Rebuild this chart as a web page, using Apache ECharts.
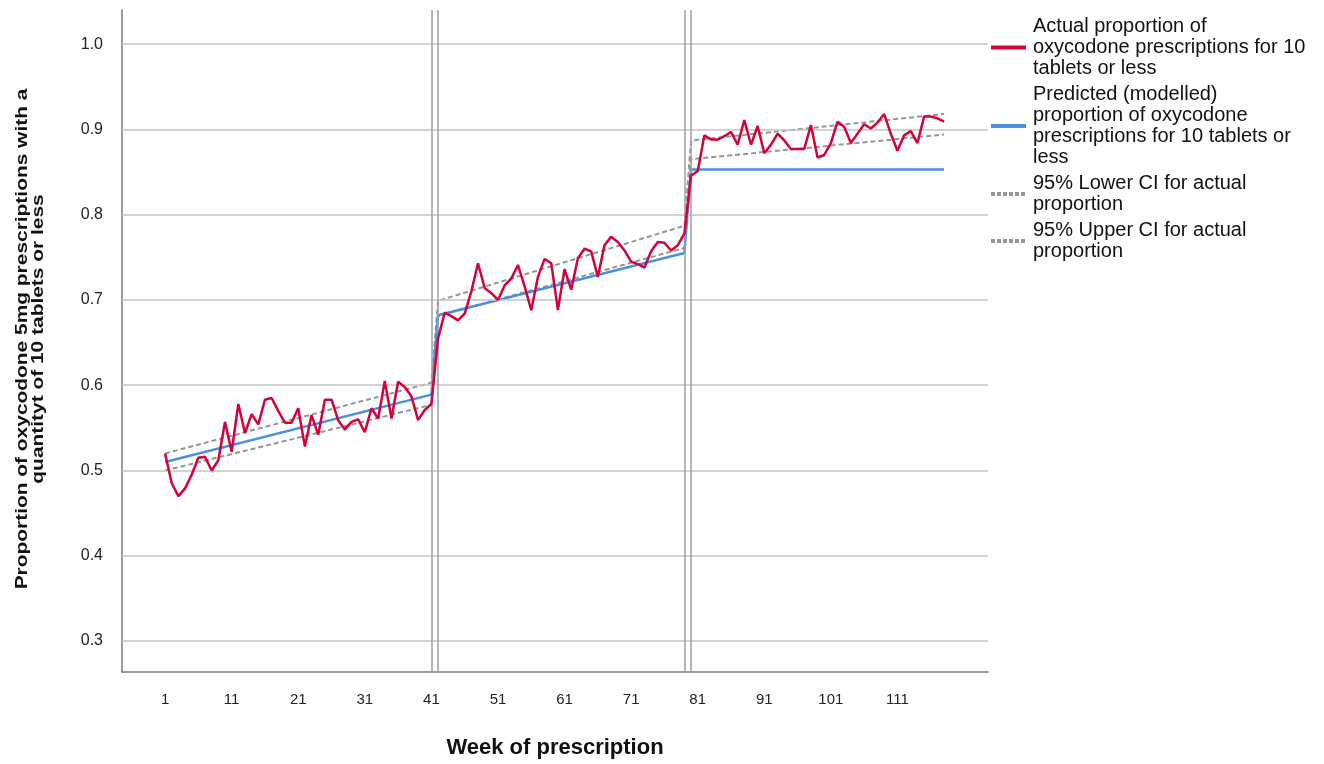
<!DOCTYPE html>
<html><head><meta charset="utf-8">
<script src="https://cdn.jsdelivr.net/npm/echarts@6/dist/echarts.min.js"></script>
<style>html,body{margin:0;padding:0;background:#fff}#c{width:1324px;height:764px}</style>
</head><body><div id="c"></div>
<script>
// Actual weekly proportion, week 1 .. 118
const actual = [
 0.520,0.485,0.470,0.479,0.495,0.515,0.516,0.500,0.512,0.557,
 0.522,0.578,0.544,0.566,0.554,0.583,0.585,0.570,0.556,0.556,
 0.573,0.528,0.565,0.542,0.583,0.583,0.559,0.548,0.557,0.560,
 0.545,0.573,0.561,0.605,0.561,0.604,0.598,0.587,0.559,0.571,
 0.578,0.655,0.685,0.681,0.676,0.684,0.710,0.743,0.714,0.708,
 0.700,0.717,0.725,0.741,0.716,0.688,0.727,0.748,0.743,0.688,
 0.736,0.712,0.749,0.760,0.757,0.727,0.764,0.774,0.768,0.758,
 0.745,0.742,0.738,0.757,0.768,0.767,0.758,0.764,0.778,0.846,
 0.851,0.893,0.888,0.888,0.892,0.897,0.882,0.911,0.882,0.904,
 0.872,0.882,0.895,0.887,0.877,0.877,0.877,0.905,0.867,0.870,
 0.884,0.909,0.903,0.884,0.895,0.906,0.901,0.908,0.918,0.895,
 0.875,0.893,0.898,0.884,0.915,0.915,0.913,0.909
];
const modelWeeks = [1, 41, 42, 79, 80, 118];
const predicted = [0.510, 0.589, 0.682, 0.755, 0.853, 0.853];
const lowerCI = [0.500, 0.577, 0.681, 0.761, 0.865, 0.894];
const upperCI = [0.520, 0.603, 0.699, 0.787, 0.887, 0.918];
const xTickLabels = [1, 11, 21, 31, 41, 51, 61, 71, 81, 91, 101, 111];
const yTickLabels = [0.3, 0.4, 0.5, 0.6, 0.7, 0.8, 0.9, 1.0];
const interruptionWeeks = [41, 42, 79, 80];
const seriesNames = [
 'Actual proportion of oxycodone prescriptions for 10 tablets or less',
 'Predicted (modelled) proportion of oxycodone prescriptions for 10 tablets or less',
 '95% Lower CI for actual proportion',
 '95% Upper CI for actual proportion'
];
const legendText = [
 'Actual proportion of\noxycodone prescriptions for 10\ntablets or less',
 'Predicted (modelled)\nproportion of oxycodone\nprescriptions for 10 tablets or\nless',
 '95% Lower CI for actual\nproportion',
 '95% Upper CI for actual\nproportion'
];
const yTitle = 'Proportion of oxycodone 5mg prescriptions with a\nquantityt of 10 tablets or less';
const xTitle = 'Week of prescription';

const pair = (xs, ys) => xs.map((x, i) => [x, ys[i]]);
const actualData = actual.map((v, i) => [i + 1, v]);

const FONT = '"Liberation Sans", Arial, sans-serif';
const noSymbol = {color: 'rgba(0,0,0,0)', borderWidth: 0, opacity: 0};
const chart = echarts.init(document.getElementById('c'), null, {renderer: 'canvas'});
chart.setOption({
  animation: false,
  backgroundColor: '#ffffff',
  grid: {left: 122, right: 336, top: 10, bottom: 92, containLabel: false, outerBoundsMode: 'none'},
  xAxis: {
    type: 'value', min: -5.47, max: 124.6,
    axisLine: {show: true, onZero: false, lineStyle: {color: '#7a7a7a', width: 1.5}},
    axisTick: {show: false},
    splitLine: {show: false},
    axisLabel: {customValues: xTickLabels, color: '#222', fontSize: 15, fontFamily: FONT, margin: 20},
    name: xTitle, nameLocation: 'middle', nameGap: 65,
    nameTextStyle: {fontSize: 22, fontWeight: 'bold', color: '#111', fontFamily: FONT}
  },
  yAxis: {
    type: 'value', min: 0.2637, max: 1.04,
    axisLine: {show: true, onZero: false, lineStyle: {color: '#7a7a7a', width: 1.5}},
    axisTick: {show: false},
    splitLine: {show: false},
    axisLabel: {customValues: yTickLabels, formatter: v => v.toFixed(1), color: '#222', fontSize: 16, fontFamily: FONT, margin: 19}
  },
  graphic: [{
    type: 'text', x: 30, y: 339, rotation: Math.PI / 2, scaleX: 1.23,
    style: {text: yTitle, font: 'bold 17px ' + FONT, align: 'center', verticalAlign: 'middle',
            textAlign: 'center', textVerticalAlign: 'middle', lineHeight: 16, fill: '#111'}
  }],
  legend: {
    orient: 'vertical', left: 989, top: 16, padding: 0, itemGap: 5,
    itemWidth: 35, itemHeight: 14, selectedMode: false,
    itemStyle: noSymbol,
    data: [
      {name: seriesNames[0], lineStyle: {width: 4}, itemStyle: noSymbol},
      {name: seriesNames[1], lineStyle: {width: 4}, itemStyle: noSymbol},
      {name: seriesNames[2], lineStyle: {width: 4, type: [4, 2]}, itemStyle: noSymbol},
      {name: seriesNames[3], lineStyle: {width: 4, type: [4, 2]}, itemStyle: noSymbol}
    ],
    formatter: name => legendText[seriesNames.indexOf(name)],
    textStyle: {fontSize: 20, lineHeight: 21, color: '#111', fontFamily: FONT, padding: [0, 0, 0, 2]}
  },
  series: [
    {
      type: 'line', name: 'gridlines', data: [], z: 1, silent: true,
      markLine: {
        silent: true, symbol: ['none', 'none'], label: {show: false},
        lineStyle: {color: '#c4c4c4', width: 1.5, type: 'solid'},
        emphasis: {disabled: true},
        data: yTickLabels.map(v => ({yAxis: v}))
      }
    },
    {
      type: 'line', name: 'interruptions', data: [], z: 2, silent: true,
      markLine: {
        silent: true, symbol: ['none', 'none'], label: {show: false},
        lineStyle: {color: '#9e9e9e', width: 1.5, type: 'solid'},
        emphasis: {disabled: true},
        data: interruptionWeeks.map(w => ({xAxis: w}))
      }
    },
    {
      type: 'line', name: seriesNames[2], data: pair(modelWeeks, lowerCI), z: 3,
      symbol: 'none', lineStyle: {color: '#959595', width: 2, type: [5, 3]}, itemStyle: {color: '#959595'}
    },
    {
      type: 'line', name: seriesNames[3], data: pair(modelWeeks, upperCI), z: 3,
      symbol: 'none', lineStyle: {color: '#959595', width: 2, type: [5, 3]}, itemStyle: {color: '#959595'}
    },
    {
      type: 'line', name: seriesNames[1], data: pair(modelWeeks, predicted), z: 4,
      symbol: 'none', lineStyle: {color: '#4a8fe0', width: 2.5}, itemStyle: {color: '#4a8fe0'}
    },
    {
      type: 'line', name: seriesNames[0], data: actualData, z: 5,
      symbol: 'none', lineStyle: {color: '#d4023b', width: 2.5}, itemStyle: {color: '#d4023b'}
    }
  ]
});
</script></body></html>
